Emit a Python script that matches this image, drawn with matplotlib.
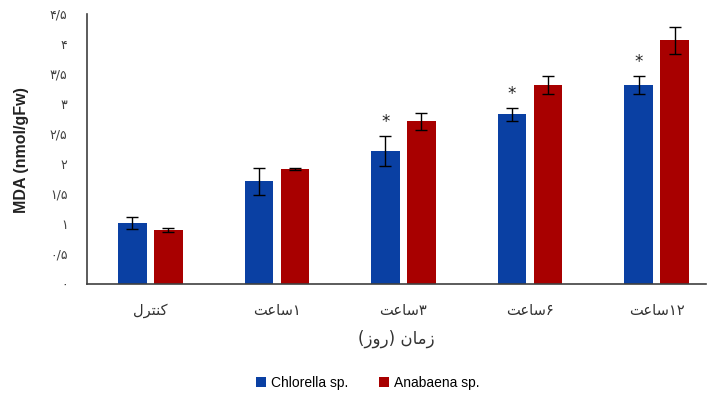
import matplotlib
matplotlib.use("Agg")
import matplotlib.pyplot as plt
import numpy as np

# ---- data -------------------------------------------------------------
categories = ["کنترل", "۱ساعت", "۳ساعت", "۶ساعت", "۱۲ساعت"]
series_names = ["Chlorella sp.", "Anabaena sp."]
chlorella = [1.02, 1.71, 2.22, 2.83, 3.32]
chlorella_err = [0.10, 0.22, 0.25, 0.11, 0.15]
anabaena = [0.90, 1.92, 2.71, 3.31, 4.06]
anabaena_err = [0.04, 0.02, 0.14, 0.15, 0.22]
significant = [False, False, True, True, True]
y_ticks = [0, 0.5, 1, 1.5, 2, 2.5, 3, 3.5, 4, 4.5]
x_title = "زمان (روز)"
y_title = "MDA (nmol/gFw)"

BLUE = "#0a40a3"
RED = "#a80000"

# ---- minimal Persian shaping (presentation forms + visual order) -------
FORMS = {  # isolated, final, initial, medial
    "ک": ("\uFB8E", "\uFB8F", "\uFB90", "\uFB91"),
    "ن": ("\uFEE5", "\uFEE6", "\uFEE7", "\uFEE8"),
    "ت": ("\uFE95", "\uFE96", "\uFE97", "\uFE98"),
    "ل": ("\uFEDD", "\uFEDE", "\uFEDF", "\uFEE0"),
    "س": ("\uFEB1", "\uFEB2", "\uFEB3", "\uFEB4"),
    "ع": ("\uFEC9", "\uFECA", "\uFECB", "\uFECC"),
    "م": ("\uFEE1", "\uFEE2", "\uFEE3", "\uFEE4"),
    "ر": ("\uFEAD", "\uFEAE"),
    "ا": ("\uFE8D", "\uFE8E"),
    "ز": ("\uFEAF", "\uFEB0"),
    "و": ("\uFEED", "\uFEEE"),
}
DIGITS = set("۰۱۲۳۴۵۶۷۸۹/0123456789")
MIRROR = {"(": ")", ")": "("}


def shape(text):
    chars = list(text)
    out = []
    for i, c in enumerate(chars):
        if c not in FORMS:
            out.append(c)
            continue
        prev = chars[i - 1] if i > 0 else None
        nxt = chars[i + 1] if i + 1 < len(chars) else None
        jp = prev in FORMS and len(FORMS[prev]) == 4
        jn = len(FORMS[c]) == 4 and nxt in FORMS
        f = FORMS[c]
        if jp and jn:
            out.append(f[3])
        elif jp:
            out.append(f[1])
        elif jn:
            out.append(f[2])
        else:
            out.append(f[0])
    # visual order: reverse, keeping digit runs left-to-right
    runs = []
    for orig, c in zip(chars, out):
        if orig in DIGITS and runs and runs[-1][0]:
            runs[-1][1].append(c)
        else:
            runs.append((orig in DIGITS, [c]))
    vis = []
    for is_num, run in reversed(runs):
        if is_num:
            vis.append("".join(run))
        else:
            vis.append("".join(MIRROR.get(ch, ch) for ch in run))
    return "".join(vis)


def fa_num(v):
    s = ("%g" % v).replace(".", "/")
    return s.translate(str.maketrans("0123456789", "۰۱۲۳۴۵۶۷۸۹"))


FA_FONT = ["DejaVu Sans"]

# ---- figure -------------------------------------------------------------
fig = plt.figure(figsize=(7.12, 3.98), dpi=100)
ax = fig.add_axes([87 / 712, 114 / 398, 619 / 712, 270 / 398])

x = np.arange(len(categories))
w = 0.225
off = 0.142
ax.bar(x - off, chlorella, w, color=BLUE, label=series_names[0], zorder=2)
ax.bar(x + off, anabaena, w, color=RED, label=series_names[1], zorder=2)
ax.errorbar(x - off, chlorella, yerr=chlorella_err, fmt="none", ecolor="black",
            elinewidth=1.0, capsize=4, capthick=1.0, zorder=3)
ax.errorbar(x + off, anabaena, yerr=anabaena_err, fmt="none", ecolor="black",
            elinewidth=1.0, capsize=4, capthick=1.0, zorder=3)

for xi, v, e, s in zip(x, chlorella, chlorella_err, significant):
    if s:
        ax.text(xi - off, v + e + 0.08, "*", ha="center", va="bottom",
                fontsize=12, color="#222222")

ax.set_xlim(-0.5, 4.39)
ax.set_ylim(0, 4.5)
ax.set_yticks(y_ticks)
ax.set_yticklabels([fa_num(t) for t in y_ticks], family=FA_FONT, fontsize=9,
                   color="#404040")
ax.set_xticks(x)
ax.set_xticklabels([shape(c) for c in categories], family=FA_FONT, fontsize=10.5,
                   color="#333333")
ax.tick_params(axis="y", length=0, pad=14)
ax.tick_params(axis="x", length=0, pad=14)

for side in ("top", "right"):
    ax.spines[side].set_visible(False)
for side in ("left", "bottom"):
    ax.spines[side].set_color("#404040")
    ax.spines[side].set_linewidth(1.2)

ax.set_xlabel(shape(x_title), family=FA_FONT, fontsize=12, color="#333333",
              labelpad=8)
fig.text(0.03, (398 - 150) / 398, y_title, rotation=90,
         ha="center", va="center", fontsize=11.5, fontweight="bold",
         family="Liberation Sans", color="#222222")

leg = fig.legend(loc="center", bbox_to_anchor=(0.865 * 0 + 368 / 712, 15 / 398),
                 ncol=2, frameon=False, handlelength=0.7, handleheight=0.7,
                 handletextpad=0.4, columnspacing=2.2,
                 prop={"family": "Liberation Sans", "size": 10})

fig.savefig("out.png", dpi=100)
